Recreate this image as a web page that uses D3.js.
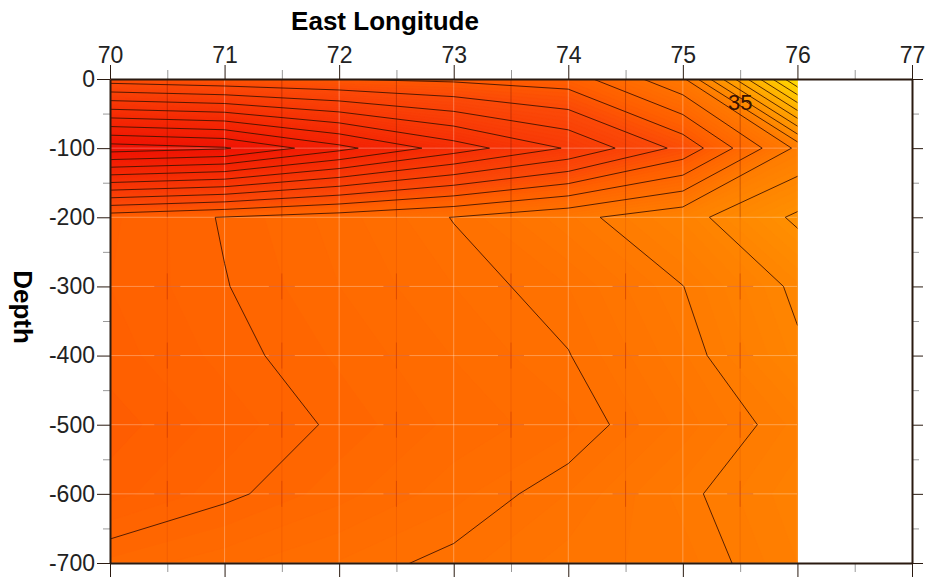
<!DOCTYPE html>
<html>
<head>
<meta charset="utf-8"/>
<style>
  body { margin: 0; background: #fff; }
  text { font-family: "Liberation Sans", Arial, sans-serif; }
  .axis text { font-size: 23px; fill: #222; }
  .axis path, .axis line { stroke: #2a1a10; }
  .minor line { stroke: #999; }
</style>
</head>
<body>
<svg id="chart" width="927" height="578"></svg>
<script src="https://d3js.org/d3.v7.min.js"></script>
<script>
// grid of the section: longitudes (columns) and depths (rows)
let lons = [70, 71, 72, 73, 74, 75, 76];
let depths = [0, -100, -200, -300, -400, -500, -600, -700];

// values, one row per depth
let s0   = [35.75, 35.72, 35.70, 35.68, 35.65, 35.42, 34.50];
let s100 = [36.55, 36.51, 36.33, 36.15, 35.99, 35.77, 35.38];
let s200 = [35.645, 35.596, 35.55, 35.498, 35.425, 35.335, 35.184];
let s300 = [35.64, 35.602, 35.56, 35.52, 35.48, 35.401, 35.286];
let s400 = [35.65, 35.613, 35.576, 35.539, 35.502, 35.424, 35.311];
let s500 = [35.671, 35.632, 35.593, 35.554, 35.527, 35.452, 35.372];
let s600 = [35.649, 35.609, 35.568, 35.528, 35.479, 35.412, 35.345];
let s700 = [35.574, 35.546, 35.518, 35.489, 35.45, 35.43, 35.36];

// contour lines
let levels = [34.6, 34.7, 34.8, 34.9, 35.0, 35.1, 35.2, 35.3, 35.4, 35.5, 35.6,
              35.7, 35.8, 35.9, 36.0, 36.1, 36.2, 36.3, 36.4, 36.5];

let lonTicks = [70, 71, 72, 73, 74, 75, 76, 77];
let lonMinor = [70.5, 71.5, 72.5, 73.5, 74.5, 75.5, 76.5];
let depthTicks = [0, -100, -200, -300, -400, -500, -600, -700];
let depthMinor = [-50, -150, -250, -350, -450, -550, -650];

let grid = [s0, s100, s200, s300, s400, s500, s600, s700];

let svg = d3.select("#chart");
let x = d3.scaleLinear().domain([70, 77]).range([110, 912]);
let y = d3.scaleLinear().domain([0, -700]).range([79, 563]);

let color = d3.scaleLinear()
  .domain([34.5, 35.0, 35.3, 35.5, 35.65, 35.8, 36.2, 36.55])
  .range(["#ffe000", "#ffa400", "#ff8500", "#ff7000", "#ff6000", "#fb4a08", "#f52a05", "#ee1204"]);

let nx = lons.length, ny = depths.length;
let values = grid.flat();

// contour coords -> data coords (d3.contours puts sample i at i + 0.5)
let proj = d3.geoTransform({
  point: function(px, py) {
    let lon = lons[0] + (px - 0.5) * (lons[1] - lons[0]);
    let dep = depths[0] + (py - 0.5) * (depths[1] - depths[0]);
    this.stream.point(x(lon), y(dep));
  }
});
let path = d3.geoPath(proj);

svg.append("clipPath").attr("id", "clip")
  .append("rect")
  .attr("x", x(lons[0])).attr("y", y(depths[0]))
  .attr("width", x(lons[nx - 1]) - x(lons[0]))
  .attr("height", y(depths[ny - 1]) - y(depths[0]));

let plot = svg.append("g").attr("clip-path", "url(#clip)");

// filled shading, fine steps so it looks smooth
let steps = d3.range(34.40, 36.60, 0.02);
let bands = d3.contours().size([nx, ny]).thresholds(steps)(values);
plot.selectAll("path.band")
  .data(bands)
  .join("path")
  .attr("class", "band")
  .attr("d", path)
  .attr("fill", d => color(d.value + 0.01))
  .attr("stroke", d => color(d.value + 0.01))
  .attr("stroke-width", 0.5);

// grid lines
plot.selectAll("line.vgrid")
  .data(lonTicks)
  .join("line")
  .attr("x1", d => x(d)).attr("x2", d => x(d))
  .attr("y1", y(0)).attr("y2", y(-700))
  .attr("stroke", "#fff").attr("stroke-opacity", 0.3);

plot.selectAll("line.hgrid")
  .data(depthTicks)
  .join("line")
  .attr("x1", x(70)).attr("x2", x(76))
  .attr("y1", d => y(d)).attr("y2", d => y(d))
  .attr("stroke", "#fff").attr("stroke-opacity", 0.3);

plot.selectAll("line.mgrid")
  .data(lonMinor)
  .join("line")
  .attr("x1", d => x(d)).attr("x2", d => x(d))
  .attr("y1", y(0)).attr("y2", y(-200))
  .attr("stroke", "#6a0c00").attr("stroke-opacity", 0.35);

plot.selectAll("line.mgrid2")
  .data(lonMinor)
  .join("line")
  .attr("x1", d => x(d)).attr("x2", d => x(d))
  .attr("y1", y(-200)).attr("y2", y(-700))
  .attr("stroke", "#b02000").attr("stroke-opacity", 0.15);

// small crosses in the lower part
let crossPts = [];
lonMinor.forEach(function(lo) {
  [-300, -400, -500, -600].forEach(function(de) { crossPts.push([lo, de]); });
});
plot.selectAll("path.cross")
  .data(crossPts)
  .join("path")
  .attr("d", d => `M${x(d[0]) - 13},${y(d[1])}H${x(d[0]) + 13}M${x(d[0])},${y(d[1]) - 13}V${y(d[1]) + 13}`)
  .attr("stroke", "#b02000").attr("stroke-opacity", 0.35);

// contour lines
let lines = d3.contours().size([nx, ny]).thresholds(levels)(values);
plot.selectAll("path.iso")
  .data(lines)
  .join("path")
  .attr("d", path)
  .attr("fill", "none")
  .attr("stroke", "#3a1200")
  .attr("stroke-opacity", 0.85)
  .attr("stroke-width", 1);

svg.append("text")
  .attr("x", x(75.5)).attr("y", y(-33))
  .attr("text-anchor", "middle").attr("dy", "0.35em")
  .style("font-size", "22px").attr("fill", "#3a1200")
  .text("35");

// axes
svg.append("g").attr("class", "axis minor")
  .attr("transform", `translate(0,${y(0)})`)
  .call(d3.axisTop(x).tickValues(lonMinor).tickSize(9).tickSizeOuter(0).tickFormat(""))
  .select(".domain").remove();
svg.append("g").attr("class", "axis minor")
  .attr("transform", `translate(0,${y(-700)})`)
  .call(d3.axisBottom(x).tickValues(lonMinor).tickSize(9).tickSizeOuter(0).tickFormat(""))
  .select(".domain").remove();
svg.append("g").attr("class", "axis minor")
  .attr("transform", `translate(${x(70)},0)`)
  .call(d3.axisLeft(y).tickValues(depthMinor).tickSize(7).tickSizeOuter(0).tickFormat(""))
  .select(".domain").remove();
svg.append("g").attr("class", "axis minor")
  .attr("transform", `translate(${x(77)},0)`)
  .call(d3.axisRight(y).tickValues(depthMinor).tickSize(7).tickSizeOuter(0).tickFormat(""))
  .select(".domain").remove();

svg.append("g").attr("class", "axis")
  .attr("transform", `translate(0,${y(0)})`)
  .call(d3.axisTop(x).tickValues(lonTicks).tickSize(14).tickSizeOuter(0).tickPadding(2).tickFormat(d => String(d)));
svg.append("g").attr("class", "axis")
  .attr("transform", `translate(0,${y(-700)})`)
  .call(d3.axisBottom(x).tickValues(lonTicks).tickSize(14).tickSizeOuter(0).tickFormat(""));
svg.append("g").attr("class", "axis")
  .attr("transform", `translate(${x(70)},0)`)
  .call(d3.axisLeft(y).tickValues(depthTicks).tickSize(13).tickSizeOuter(0).tickPadding(2).tickFormat(d => String(d)));
svg.append("g").attr("class", "axis")
  .attr("transform", `translate(${x(77)},0)`)
  .call(d3.axisRight(y).tickValues(depthTicks).tickSize(11).tickSizeOuter(0).tickFormat(""));

svg.selectAll(".axis .domain").attr("stroke-width", 2);

svg.append("text")
  .attr("x", 385).attr("y", 30)
  .attr("text-anchor", "middle")
  .style("font-size", "26px").style("font-weight", "bold")
  .text("East Longitude");

svg.append("text")
  .attr("transform", `translate(14,${(y(0) + y(-700)) / 2 - 14}) rotate(90)`)
  .attr("text-anchor", "middle")
  .style("font-size", "26px").style("font-weight", "bold")
  .text("Depth");
</script>
</body>
</html>
